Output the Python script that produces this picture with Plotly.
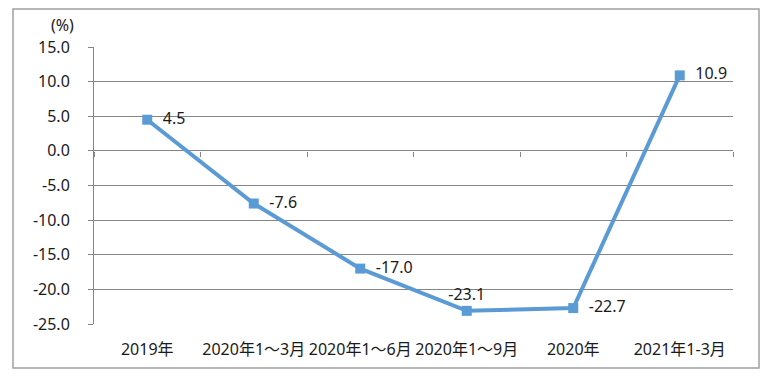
import plotly.graph_objects as go

categories = ["2019年", "2020年1～3月", "2020年1～6月", "2020年1～9月", "2020年", "2021年1-3月"]
values = [4.5, -7.6, -17.0, -23.1, -22.7, 10.9]
value_labels = ["4.5", "-7.6", "-17.0", "-23.1", "-22.7", "10.9"]
label_positions = ["middle right", "middle right", "middle right", "top center", "middle right", "middle right"]
y_ticks = [15, 10, 5, 0, -5, -10, -15, -20, -25]
y_tick_labels = ["15.0", "10.0", "5.0", "0.0", "-5.0", "-10.0", "-15.0", "-20.0", "-25.0"]

FONT = "Noto Sans, Noto Sans CJK SC"
GRID = "#858585"
BLUE = "#5b9bd5"
TXT = "#1a1a1a"

# page body has an 8px margin, so the figure is 760x370 placed at (8,8)
W, H = 760, 370
L, T, R, B = 86, 39, 35, 54
PW, PH = W - L - R, H - T - B

fig = go.Figure()
fig.add_trace(go.Scatter(
    x=categories, y=values, mode="lines+markers+text",
    line=dict(color=BLUE, width=4),
    marker=dict(symbol="square", size=10, color=BLUE),
    text=["  " + t if p == "middle right" else t for t, p in zip(value_labels, label_positions)],
    textposition=label_positions,
    textfont=dict(family=FONT, size=16, color=TXT),
    cliponaxis=False, showlegend=False,
))
fig.add_trace(go.Scatter(x=categories, y=values, xaxis="x2", mode="markers",
                         marker=dict(opacity=0), showlegend=False, hoverinfo="skip"))

ymin, ymax = -25, 15
xrange = [-0.5, len(categories) - 0.5]
fig.update_layout(
    width=W, height=H,
    margin=dict(l=L, r=R, t=T, b=B),
    paper_bgcolor="white", plot_bgcolor="white",
    font=dict(family=FONT, size=16, color=TXT),
    xaxis=dict(type="category", range=xrange, showgrid=False, showline=False, ticks="",
               zeroline=False, ticklabelstandoff=14,
               tickfont=dict(family=FONT, size=16, color=TXT)),
    xaxis2=dict(type="category", range=xrange, overlaying="x", anchor="free",
                position=(0 - ymin) / (ymax - ymin), showticklabels=False,
                ticks="outside", ticklen=5, tickcolor=GRID, tickson="boundaries",
                showline=False, showgrid=False, zeroline=False, side="bottom"),
    yaxis=dict(range=[ymin, ymax], tickvals=y_ticks, ticktext=y_tick_labels,
               showgrid=True, gridcolor=GRID, gridwidth=1,
               showline=True, linecolor=GRID, linewidth=1,
               ticks="outside", ticklen=5, tickcolor=GRID,
               zeroline=False, ticklabelstandoff=15,
               tickfont=dict(family=FONT, size=16, color=TXT)),
    shapes=[dict(type="rect", xref="paper", yref="paper",
                 x0=-81 / PW, x1=1 + 26 / PW, y0=-44 / PH, y1=1 + 38 / PH,
                 line=dict(color="#a0a0a0", width=1.5), fillcolor="rgba(0,0,0,0)", layer="below")],
    annotations=[dict(text="(%)", xref="paper", yref="paper", x=-32 / PW, y=1 + 22 / PH,
                      showarrow=False, xanchor="center", yanchor="middle",
                      font=dict(family=FONT, size=16, color=TXT))],
)
fig.write_html("out.html")
